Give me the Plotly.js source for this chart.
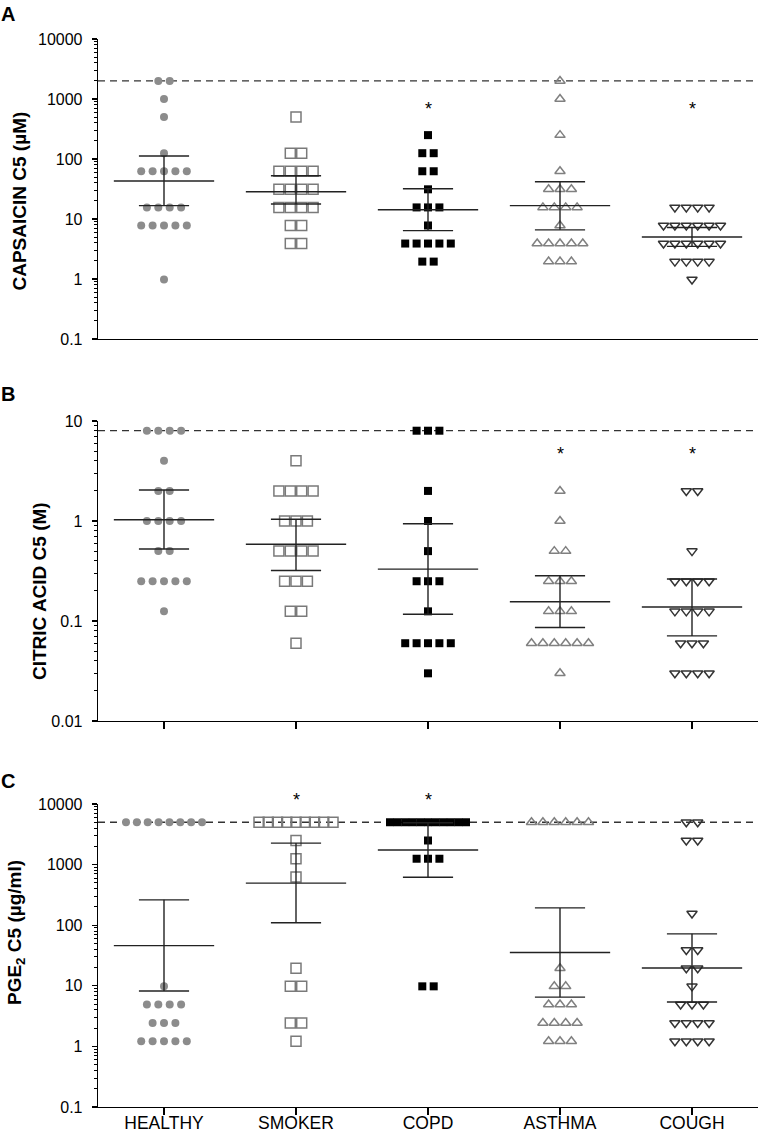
<!DOCTYPE html>
<html>
<head>
<meta charset="utf-8">
<script src="https://cdn.plot.ly/plotly-3.0.1.min.js"></script>
<style>body{margin:0;background:#fff}</style>
</head>
<body>
<div id="chart" style="width:760px;height:1138px"></div>
<script>
var groups = ['HEALTHY', 'SMOKER', 'COPD', 'ASTHMA', 'COUGH'];

// A: capsaicin C5 (uM)
var capHealthy = [2000, 2000, 1000, 500, 125, 62.5, 62.5, 62.5, 62.5, 62.5, 15.6, 15.6, 15.6, 15.6, 7.8, 7.8, 7.8, 7.8, 7.8, 0.98];
var capSmoker = [500, 125, 125, 62.5, 62.5, 62.5, 62.5, 31.25, 31.25, 31.25, 31.25, 15.6, 15.6, 15.6, 15.6, 7.8, 7.8, 3.9, 3.9];
var capCopd = [250, 125, 125, 62.5, 62.5, 31.25, 15.6, 15.6, 15.6, 7.8, 3.9, 3.9, 3.9, 3.9, 3.9, 1.95, 1.95];
var capAsthma = [2000, 1000, 250, 62.5, 31.25, 31.25, 31.25, 15.6, 15.6, 15.6, 15.6, 7.8, 3.9, 3.9, 3.9, 3.9, 3.9, 1.95, 1.95, 1.95];
var capCough = [15.6, 15.6, 15.6, 15.6, 7.8, 7.8, 7.8, 7.8, 7.8, 7.8, 3.9, 3.9, 3.9, 3.9, 3.9, 3.9, 1.95, 1.95, 1.95, 1.95, 0.98];
var capMean = [43, 28.5, 14.3, 16.7, 5.0];
var capLow = [16.7, 17.8, 6.4, 6.6, 3.5];
var capHigh = [112, 52.6, 32, 41.8, 7.2];
var capMax = 2000;
var capStarGroups = ['COPD', 'COUGH'];
var capStarY = 680;

// B: citric acid C5 (M)
var citHealthy = [8, 8, 8, 8, 4, 2, 2, 1, 1, 1, 1, 0.5, 0.5, 0.25, 0.25, 0.25, 0.25, 0.25, 0.125];
var citSmoker = [4, 2, 2, 2, 2, 1, 1, 1, 0.5, 0.5, 0.5, 0.5, 0.25, 0.25, 0.25, 0.125, 0.125, 0.06];
var citCopd = [8, 8, 8, 2, 1, 0.5, 0.25, 0.25, 0.25, 0.125, 0.06, 0.06, 0.06, 0.06, 0.06, 0.03];
var citAsthma = [2, 1, 0.5, 0.5, 0.25, 0.25, 0.25, 0.125, 0.125, 0.125, 0.06, 0.06, 0.06, 0.06, 0.06, 0.06, 0.03];
var citCough = [2, 2, 0.5, 0.25, 0.25, 0.25, 0.25, 0.125, 0.125, 0.125, 0.125, 0.06, 0.06, 0.06, 0.03, 0.03, 0.03, 0.03];
var citMean = [1.03, 0.585, 0.33, 0.156, 0.138];
var citLow = [0.525, 0.32, 0.117, 0.086, 0.071];
var citHigh = [2.04, 1.04, 0.94, 0.284, 0.263];
var citMax = 8;
var citStarGroups = ['ASTHMA', 'COUGH'];
var citStarY = 4.7;

// C: PGE2 C5 (ug/ml)
var pgeHealthy = [5000, 5000, 5000, 5000, 5000, 5000, 5000, 5000, 9.8, 4.9, 4.9, 4.9, 4.9, 2.44, 2.44, 2.44, 1.22, 1.22, 1.22, 1.22, 1.22];
var pgeSmoker = [5000, 5000, 5000, 5000, 5000, 5000, 5000, 5000, 5000, 2500, 1250, 625, 19.5, 9.8, 9.8, 2.44, 2.44, 1.22];
var pgeCopd = [5000, 5000, 5000, 5000, 5000, 5000, 5000, 5000, 5000, 5000, 5000, 2500, 1250, 1250, 1250, 9.8, 9.8];
var pgeAsthma = [5000, 5000, 5000, 5000, 5000, 5000, 19.5, 9.8, 9.8, 4.9, 4.9, 4.9, 2.44, 2.44, 2.44, 2.44, 1.22, 1.22, 1.22];
var pgeCough = [5000, 5000, 2500, 2500, 156, 39, 39, 19.5, 19.5, 9.8, 4.9, 4.9, 4.9, 2.44, 2.44, 2.44, 2.44, 1.22, 1.22, 1.22, 1.22];
var pgeMean = [46, 494, 1740, 35.5, 19.7];
var pgeLow = [8.2, 110, 620, 6.5, 5.4];
var pgeHigh = [262, 2265, 4900, 193, 72];
var pgeMax = 5000;
var pgeStarGroups = ['SMOKER', 'COPD'];
var pgeStarY = 11800;

var markerStyles = [
  {symbol: 'circle', size: 8, color: '#8c8c8c'},
  {symbol: 'square-open', size: 10, color: '#7a7a7a', line: {color: '#7a7a7a', width: 1.5}},
  {symbol: 'square', size: 8, color: '#000'},
  {symbol: 'triangle-up-open', size: 9, color: '#808080', line: {color: '#808080', width: 1.5}},
  {symbol: 'triangle-down-open', size: 9, color: '#333', line: {color: '#333', width: 1.5}}
];

var pxPerCat = 132;
var stepPx = 11.4;     // spacing of tied points
var maxRowPx = 84;     // widest a row of tied points may get
var font = 'Liberation Sans, Arial, Helvetica, sans-serif';

// spread repeated values side by side around the category centre
function swarmX(vals, gi, size) {
  var counts = {}, seen = {};
  vals.forEach(function (v) { counts[v] = (counts[v] || 0) + 1; });
  return vals.map(function (v) {
    var n = counts[v], k = seen[v] || 0;
    seen[v] = k + 1;
    var s = stepPx;
    if (n > 1 && (n - 1) * s > maxRowPx - size) s = (maxRowPx - size) / (n - 1);
    return gi + (k - (n - 1) / 2) * s / pxPerCat;
  });
}

var annotations = [];

function panel(sets, mean, low, high, maxVal, starGroups, starY, n, range) {
  var xa = n === 1 ? 'x' : 'x' + n, ya = n === 1 ? 'y' : 'y' + n;
  var out = [];
  // dashed max-concentration line
  out.push({x: [-0.5, 4.5], y: [maxVal, maxVal], xaxis: xa, yaxis: ya, mode: 'lines',
    line: {color: '#333', width: 1.3, dash: '7px,5px'}, hoverinfo: 'skip'});
  sets.forEach(function (vals, gi) {
    out.push({x: swarmX(vals, gi, markerStyles[gi].size), y: vals, xaxis: xa, yaxis: ya, mode: 'markers',
      marker: markerStyles[gi], cliponaxis: false});
  });
  // mean with error bars
  var lx = [], ly = [];
  for (var i = 0; i < groups.length; i++) {
    lx.push(i - 0.38, i + 0.38, null, i - 0.19, i + 0.19, null, i - 0.19, i + 0.19, null, i, i, null);
    ly.push(mean[i], mean[i], null, high[i], high[i], null, low[i], low[i], null, low[i], high[i], null);
  }
  out.push({x: lx, y: ly, xaxis: xa, yaxis: ya, mode: 'lines',
    line: {color: '#222', width: 1.4}, hoverinfo: 'skip'});
  // significance stars; placed in axis-domain units so ones above the range still show
  var domY = (Math.log10(starY) - range[0]) / (range[1] - range[0]);
  starGroups.forEach(function (g) {
    annotations.push({text: '*', xref: xa, yref: ya + ' domain', x: groups.indexOf(g), y: domY,
      xanchor: 'center', yanchor: 'middle', showarrow: false,
      font: {family: font, size: 18, color: '#000'}});
  });
  return out;
}

var rangeA = [-1, 4], rangeB = [-2, 1], rangeC = [-1, 4];

var data = [].concat(
  panel([capHealthy, capSmoker, capCopd, capAsthma, capCough], capMean, capLow, capHigh, capMax, capStarGroups, capStarY, 1, rangeA),
  panel([citHealthy, citSmoker, citCopd, citAsthma, citCough], citMean, citLow, citHigh, citMax, citStarGroups, citStarY, 2, rangeB),
  panel([pgeHealthy, pgeSmoker, pgeCopd, pgeAsthma, pgeCough], pgeMean, pgeLow, pgeHigh, pgeMax, pgeStarGroups, pgeStarY, 3, rangeC)
);

function minorVals(lo, hi) {
  var v = [];
  for (var e = lo; e < hi; e++) {
    for (var d = 2; d <= 9; d++) v.push(d * Math.pow(10, e));
  }
  return v;
}

function yAxis(domain, range, labels) {
  var lo = range[0], hi = range[1], vals = [];
  for (var e = lo; e <= hi; e++) vals.push(Math.pow(10, e));
  return {
    domain: domain, type: 'log', range: range,
    tickmode: 'array', tickvals: vals, ticktext: labels,
    ticks: 'outside', ticklen: 5, tickwidth: 1.2, tickcolor: '#000',
    ticklabelstandoff: 6,
    minor: {tickmode: 'array', tickvals: minorVals(lo, hi), ticks: 'outside', ticklen: 3, tickwidth: 1, tickcolor: '#000', showgrid: false},
    showline: true, linecolor: '#000', linewidth: 1.3,
    showgrid: false, zeroline: false,
    tickfont: {family: font, size: 16, color: '#000'}
  };
}

function xAxis(anchor, showTicks, showLabels) {
  return {
    anchor: anchor, domain: [0, 1], range: [-0.5, 4.5],
    tickmode: 'array', tickvals: [0, 1, 2, 3, 4], ticktext: groups,
    showticklabels: showLabels, ticks: showTicks ? 'outside' : '', ticklen: 7, tickwidth: 1.2, tickcolor: '#000',
    ticklabelstandoff: -7,
    showline: true, linecolor: '#000', linewidth: 1.3,
    showgrid: false, zeroline: false,
    tickfont: {family: font, size: 17.5, color: '#000'}
  };
}

function label(text, px, py, size, angle) {
  return {text: text, xref: 'paper', yref: 'paper', x: (px - 98) / 660, y: (1107 - py) / 1068,
    xanchor: 'center', yanchor: 'middle', showarrow: false, textangle: angle || 0,
    font: {family: font, size: size, color: '#000', weight: 'bold'}};
}

annotations.push(
  label('A', 8.5, 13.5, 20),
  label('B', 8.5, 394, 20),
  label('C', 8.5, 781, 20),
  label('CAPSAICIN C5 (\u00b5M)', 18.5, 201, 19, -90),
  label('CITRIC ACID C5 (M)', 40, 591, 19, -90),
  label('PGE<sub>2</sub> C5 (\u00b5g/ml)', 16, 933, 19, -90)
);

var layout = {
  width: 760, height: 1138,
  margin: {l: 98, r: 2, t: 39, b: 31},
  paper_bgcolor: '#fff', plot_bgcolor: '#fff',
  showlegend: false,
  xaxis: xAxis('y', false, false),
  xaxis2: xAxis('y2', true, false),
  xaxis3: xAxis('y3', true, true),
  yaxis: yAxis([0.7191, 1], rangeA, ['0.1', '1', '10', '100', '1000', '10000']),
  yaxis2: yAxis([0.3614, 0.6423], rangeB, ['0.01', '0.1', '1', '10']),
  yaxis3: yAxis([0, 0.2837], rangeC, ['0.1', '1', '10', '100', '1000', '10000']),
  annotations: annotations
};

Plotly.newPlot('chart', data, layout, {displayModeBar: false, staticPlot: true});
</script>
</body>
</html>
